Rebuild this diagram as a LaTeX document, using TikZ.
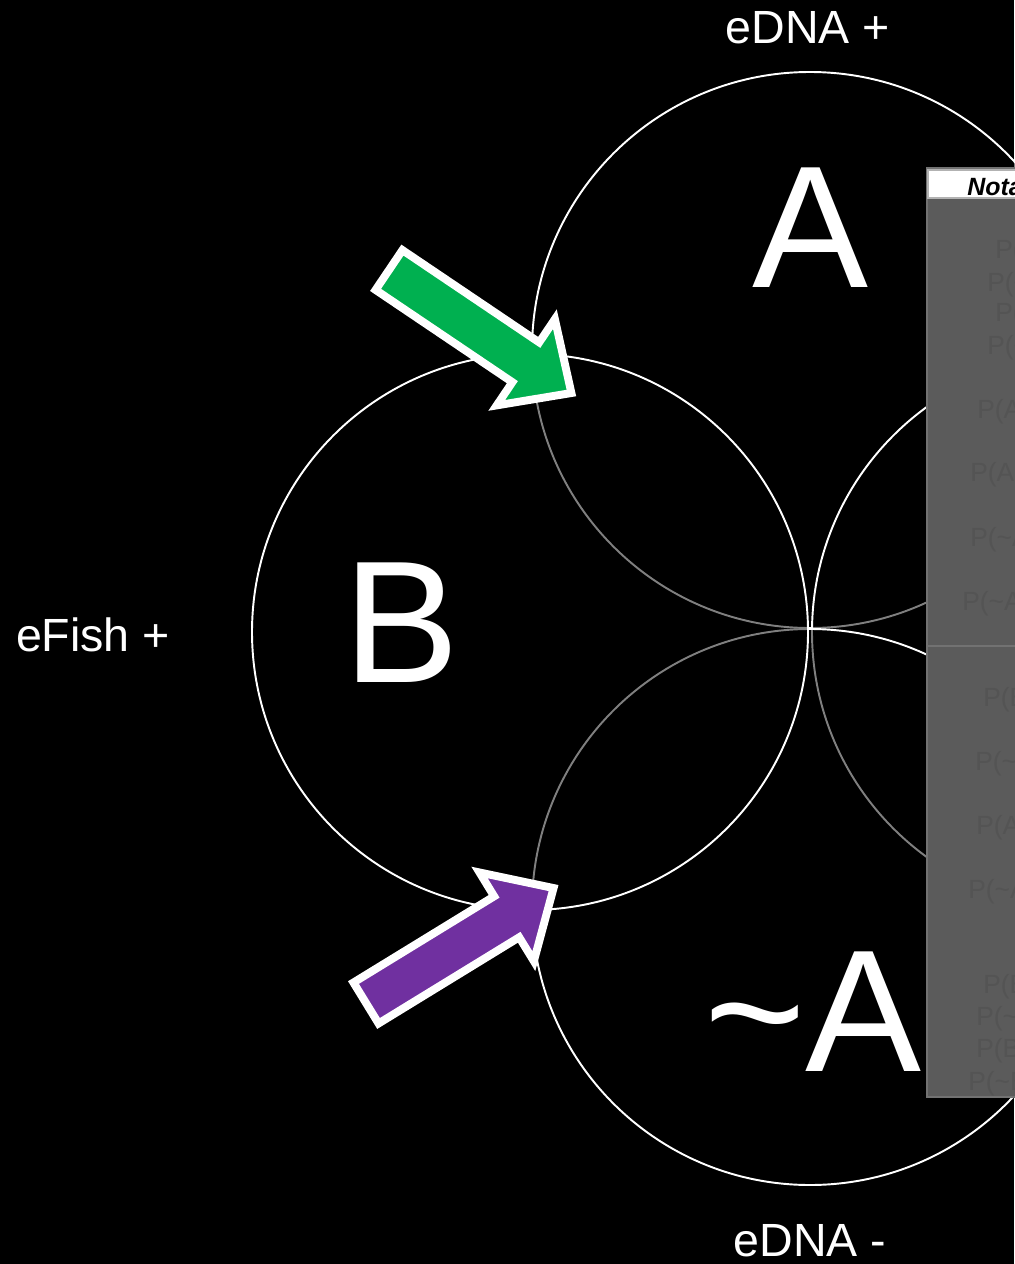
\documentclass[tikz,border=0pt]{standalone}
\usepackage{fontspec}
\setmainfont{Liberation Sans}
\usetikzlibrary{positioning}
\definecolor{arrowgreen}{RGB}{0,176,80}
\definecolor{arrowpurple}{RGB}{112,48,160}
\definecolor{panelgray}{RGB}{91,91,91}
\definecolor{panelline}{RGB}{114,114,114}
\definecolor{faintgray}{RGB}{84,84,84}

\begin{document}
\begin{tikzpicture}[x=0.02cm,y=-0.02cm,setc/.style={draw=white,line width=1.1pt,fill=black,fill opacity=0.5},big/.style={text=white,inner sep=0pt,font=\fontsize{99}{99}\selectfont},side/.style={text=white,inner sep=0pt,font=\fontsize{26.5}{30}\selectfont},blockarrow/.style={draw=white,line width=4.5pt,line join=miter},note/.style={text=faintgray,inner sep=0pt,anchor=base west,font=\fontsize{15}{18}\selectfont}]
\fill[black] (0,0) rectangle (1014,1264);
\useasboundingbox (0,0) rectangle (1014,1264);
% the four sets
\coordinate (ca) at (810,350);
\coordinate (cc) at (1090,632);
\coordinate (cn) at (810,907);
\coordinate (cb) at (530,632);
\foreach \c in {ca,cc,cn,cb} \draw[setc] (\c) circle (278);
\node[big] (la) at (810,228) {A};
\node[big] (lb) at (402,623) {B};
\node[big] (ln) at (813,1012) {\textasciitilde A};
\node[side] (edp) at (808,28) {eDNA +};
\node[side] (efp) at (93,635) {eFish +};
\node[side] (edm) at (810,1241) {eDNA -};
% notation panel
\draw[panelline,fill=panelgray,line width=0.6pt] (927,168) rectangle (1120,1097);
\draw[gray!60,fill=white,line width=0.6pt] (928,170) rectangle (1120,198);
\node[anchor=base west,inner sep=0pt,font=\fontsize{14.2}{16}\selectfont\bfseries\itshape] (nt) at (967,195) {Notation};
\draw[panelline,line width=1.6pt] (928,646) -- (1120,646);
\foreach \x/\y/\t [count=\i] in {995/258/{P(A)},987/291/{P(\textasciitilde A)},995/321/{P(B)},987/354/{P(\textasciitilde B)},977/418/{P(A|B)},970/481/{P(A|\textasciitilde B)},970/546/{P(\textasciitilde A|B)},962/610/{P(\textasciitilde A|\textasciitilde B)},983/706/{P(B|A)},975/770/{P(\textasciitilde B|A)},976/834/{P(A|B)},968/898/{P(\textasciitilde A|B)},983/993/{P(B)},976/1025/{P(\textasciitilde B)},976/1057/{P(B|A)},968/1090/{P(\textasciitilde B|A)}}
  \node[note] (p\i) at (\x,\y) {\t};
% arrows
\begin{scope}[shift={(389,270)},rotate=-34]
\draw[blockarrow,fill=arrowgreen] (0,-24) -- (165,-24) -- (165,-52) -- (220,0) -- (165,52) -- (165,24) -- (0,24) -- cycle;
\end{scope}
\begin{scope}[shift={(366,1003)},rotate=31.5]
\draw[blockarrow,fill=arrowpurple] (0,-24) -- (165,-24) -- (165,-52) -- (220,0) -- (165,52) -- (165,24) -- (0,24) -- cycle;
\end{scope}
\end{tikzpicture}
\end{document}
